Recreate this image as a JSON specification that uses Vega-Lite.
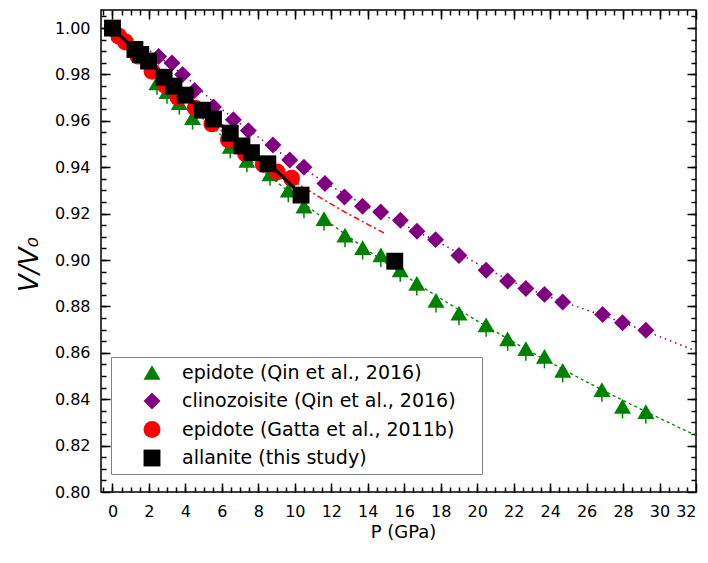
{
  "$schema": "https://vega.github.io/schema/vega-lite/v6.json",
  "width": 595,
  "height": 482,
  "autosize": {"type": "none"},
  "padding": {"left": 101, "top": 10, "right": 12, "bottom": 71},
  "background": "#ffffff",
  "config": {
    "view": {"stroke": "#000000", "strokeWidth": 1.5},
    "font": "DejaVu Sans",
    "axis": {"labelColor": "#000000", "tickColor": "#000000", "titleColor": "#000000", "labelFont": "DejaVu Sans", "titleFont": "DejaVu Sans", "grid": false, "domain": false, "tickWidth": 1.5}
  },
  "datasets": {
    "points": [
      {"s": "epidote (Qin et al., 2016)", "P": 0, "V": 1.0},
      {"s": "epidote (Qin et al., 2016)", "P": 2.44, "V": 0.9764},
      {"s": "epidote (Qin et al., 2016)", "P": 2.99, "V": 0.9726},
      {"s": "epidote (Qin et al., 2016)", "P": 3.66, "V": 0.9679},
      {"s": "epidote (Qin et al., 2016)", "P": 4.39, "V": 0.9614},
      {"s": "epidote (Qin et al., 2016)", "P": 6.46, "V": 0.949},
      {"s": "epidote (Qin et al., 2016)", "P": 7.37, "V": 0.943},
      {"s": "epidote (Qin et al., 2016)", "P": 8.64, "V": 0.9372},
      {"s": "epidote (Qin et al., 2016)", "P": 9.64, "V": 0.9301},
      {"s": "epidote (Qin et al., 2016)", "P": 10.5, "V": 0.9232},
      {"s": "epidote (Qin et al., 2016)", "P": 11.6, "V": 0.9179},
      {"s": "epidote (Qin et al., 2016)", "P": 12.75, "V": 0.9107},
      {"s": "epidote (Qin et al., 2016)", "P": 13.72, "V": 0.9054},
      {"s": "epidote (Qin et al., 2016)", "P": 14.72, "V": 0.9022},
      {"s": "epidote (Qin et al., 2016)", "P": 15.78, "V": 0.8958},
      {"s": "epidote (Qin et al., 2016)", "P": 16.69, "V": 0.8899},
      {"s": "epidote (Qin et al., 2016)", "P": 17.74, "V": 0.8826},
      {"s": "epidote (Qin et al., 2016)", "P": 19.0, "V": 0.8771},
      {"s": "epidote (Qin et al., 2016)", "P": 20.49, "V": 0.8721},
      {"s": "epidote (Qin et al., 2016)", "P": 21.67, "V": 0.866},
      {"s": "epidote (Qin et al., 2016)", "P": 22.67, "V": 0.8618},
      {"s": "epidote (Qin et al., 2016)", "P": 23.69, "V": 0.8585},
      {"s": "epidote (Qin et al., 2016)", "P": 24.69, "V": 0.8524},
      {"s": "epidote (Qin et al., 2016)", "P": 26.84, "V": 0.8441},
      {"s": "epidote (Qin et al., 2016)", "P": 27.97, "V": 0.8369},
      {"s": "epidote (Qin et al., 2016)", "P": 29.25, "V": 0.8347},
      {"s": "clinozoisite (Qin et al., 2016)", "P": 0, "V": 1.0},
      {"s": "clinozoisite (Qin et al., 2016)", "P": 2.53, "V": 0.9878},
      {"s": "clinozoisite (Qin et al., 2016)", "P": 3.26, "V": 0.985},
      {"s": "clinozoisite (Qin et al., 2016)", "P": 3.84, "V": 0.98},
      {"s": "clinozoisite (Qin et al., 2016)", "P": 4.5, "V": 0.9731},
      {"s": "clinozoisite (Qin et al., 2016)", "P": 5.54, "V": 0.966},
      {"s": "clinozoisite (Qin et al., 2016)", "P": 6.63, "V": 0.9605},
      {"s": "clinozoisite (Qin et al., 2016)", "P": 7.45, "V": 0.9558},
      {"s": "clinozoisite (Qin et al., 2016)", "P": 8.8, "V": 0.9496},
      {"s": "clinozoisite (Qin et al., 2016)", "P": 9.72, "V": 0.9431},
      {"s": "clinozoisite (Qin et al., 2016)", "P": 10.5, "V": 0.94},
      {"s": "clinozoisite (Qin et al., 2016)", "P": 11.65, "V": 0.933},
      {"s": "clinozoisite (Qin et al., 2016)", "P": 12.72, "V": 0.9272},
      {"s": "clinozoisite (Qin et al., 2016)", "P": 13.71, "V": 0.9232},
      {"s": "clinozoisite (Qin et al., 2016)", "P": 14.71, "V": 0.9207},
      {"s": "clinozoisite (Qin et al., 2016)", "P": 15.79, "V": 0.9172},
      {"s": "clinozoisite (Qin et al., 2016)", "P": 16.7, "V": 0.9124},
      {"s": "clinozoisite (Qin et al., 2016)", "P": 17.72, "V": 0.9088},
      {"s": "clinozoisite (Qin et al., 2016)", "P": 19.0, "V": 0.902},
      {"s": "clinozoisite (Qin et al., 2016)", "P": 20.49, "V": 0.8956},
      {"s": "clinozoisite (Qin et al., 2016)", "P": 21.67, "V": 0.891},
      {"s": "clinozoisite (Qin et al., 2016)", "P": 22.67, "V": 0.8877},
      {"s": "clinozoisite (Qin et al., 2016)", "P": 23.69, "V": 0.8852},
      {"s": "clinozoisite (Qin et al., 2016)", "P": 24.69, "V": 0.8819},
      {"s": "clinozoisite (Qin et al., 2016)", "P": 26.88, "V": 0.8765},
      {"s": "clinozoisite (Qin et al., 2016)", "P": 27.97, "V": 0.873},
      {"s": "clinozoisite (Qin et al., 2016)", "P": 29.25, "V": 0.8697},
      {"s": "epidote (Gatta et al., 2011b)", "P": 0, "V": 1.0},
      {"s": "epidote (Gatta et al., 2011b)", "P": 0.35, "V": 0.9965},
      {"s": "epidote (Gatta et al., 2011b)", "P": 0.71, "V": 0.994},
      {"s": "epidote (Gatta et al., 2011b)", "P": 1.4, "V": 0.9879},
      {"s": "epidote (Gatta et al., 2011b)", "P": 2.17, "V": 0.9814},
      {"s": "epidote (Gatta et al., 2011b)", "P": 2.9, "V": 0.9752},
      {"s": "epidote (Gatta et al., 2011b)", "P": 3.6, "V": 0.97},
      {"s": "epidote (Gatta et al., 2011b)", "P": 4.54, "V": 0.9655},
      {"s": "epidote (Gatta et al., 2011b)", "P": 5.45, "V": 0.9587},
      {"s": "epidote (Gatta et al., 2011b)", "P": 6.36, "V": 0.9518},
      {"s": "epidote (Gatta et al., 2011b)", "P": 7.3, "V": 0.9458},
      {"s": "epidote (Gatta et al., 2011b)", "P": 8.27, "V": 0.9413},
      {"s": "epidote (Gatta et al., 2011b)", "P": 9.03, "V": 0.938},
      {"s": "epidote (Gatta et al., 2011b)", "P": 9.82, "V": 0.9353},
      {"s": "allanite (this study)", "P": 0, "V": 1.0},
      {"s": "allanite (this study)", "P": 1.23, "V": 0.9908},
      {"s": "allanite (this study)", "P": 1.55, "V": 0.9886},
      {"s": "allanite (this study)", "P": 1.98, "V": 0.9858},
      {"s": "allanite (this study)", "P": 2.83, "V": 0.9788},
      {"s": "allanite (this study)", "P": 3.37, "V": 0.975},
      {"s": "allanite (this study)", "P": 3.99, "V": 0.9711},
      {"s": "allanite (this study)", "P": 4.93, "V": 0.9646},
      {"s": "allanite (this study)", "P": 5.54, "V": 0.9608},
      {"s": "allanite (this study)", "P": 6.46, "V": 0.9547},
      {"s": "allanite (this study)", "P": 7.1, "V": 0.9492},
      {"s": "allanite (this study)", "P": 7.62, "V": 0.9463},
      {"s": "allanite (this study)", "P": 8.52, "V": 0.9415},
      {"s": "allanite (this study)", "P": 10.34, "V": 0.928},
      {"s": "allanite (this study)", "P": 15.48, "V": 0.8995}
    ],
    "curves": [
      {"c": "ep", "P": 0, "V": 1.0}, {"c": "ep", "P": 2, "V": 0.9834}, {"c": "ep", "P": 4, "V": 0.968}, {"c": "ep", "P": 6, "V": 0.9536},
      {"c": "ep", "P": 8, "V": 0.9401}, {"c": "ep", "P": 10, "V": 0.9274}, {"c": "ep", "P": 12, "V": 0.9155}, {"c": "ep", "P": 14, "V": 0.9042},
      {"c": "ep", "P": 16, "V": 0.8935}, {"c": "ep", "P": 18, "V": 0.8834}, {"c": "ep", "P": 20, "V": 0.8738}, {"c": "ep", "P": 22, "V": 0.8646},
      {"c": "ep", "P": 24, "V": 0.8559}, {"c": "ep", "P": 26, "V": 0.8475}, {"c": "ep", "P": 28, "V": 0.8395}, {"c": "ep", "P": 30, "V": 0.8318},
      {"c": "ep", "P": 32, "V": 0.8244},
      {"c": "cz", "P": 0, "V": 1.0}, {"c": "cz", "P": 2, "V": 0.9905}, {"c": "cz", "P": 4, "V": 0.979}, {"c": "cz", "P": 6, "V": 0.965},
      {"c": "cz", "P": 8, "V": 0.953}, {"c": "cz", "P": 10, "V": 0.942}, {"c": "cz", "P": 12, "V": 0.9318}, {"c": "cz", "P": 14, "V": 0.923},
      {"c": "cz", "P": 16, "V": 0.915}, {"c": "cz", "P": 18, "V": 0.9072}, {"c": "cz", "P": 20, "V": 0.8985}, {"c": "cz", "P": 22, "V": 0.8905},
      {"c": "cz", "P": 24, "V": 0.884}, {"c": "cz", "P": 26, "V": 0.8785}, {"c": "cz", "P": 28, "V": 0.873}, {"c": "cz", "P": 30, "V": 0.867},
      {"c": "cz", "P": 32, "V": 0.8608},
      {"c": "gatta", "P": 0, "V": 1.0}, {"c": "gatta", "P": 1, "V": 0.9913}, {"c": "gatta", "P": 2, "V": 0.9833}, {"c": "gatta", "P": 3, "V": 0.9757},
      {"c": "gatta", "P": 4, "V": 0.9687}, {"c": "gatta", "P": 5, "V": 0.962}, {"c": "gatta", "P": 6, "V": 0.9557}, {"c": "gatta", "P": 7, "V": 0.9498},
      {"c": "gatta", "P": 8, "V": 0.9442}, {"c": "gatta", "P": 9, "V": 0.9388}, {"c": "gatta", "P": 10, "V": 0.9337}, {"c": "gatta", "P": 11, "V": 0.9288},
      {"c": "gatta", "P": 12, "V": 0.9241}, {"c": "gatta", "P": 13, "V": 0.9196}, {"c": "gatta", "P": 14, "V": 0.9154}, {"c": "gatta", "P": 15, "V": 0.9112},
      {"c": "aln", "P": 0, "V": 1.0}, {"c": "aln", "P": 1.23, "V": 0.9908}, {"c": "aln", "P": 1.55, "V": 0.9886}, {"c": "aln", "P": 1.98, "V": 0.9858},
      {"c": "aln", "P": 2.83, "V": 0.9788}, {"c": "aln", "P": 3.37, "V": 0.975}, {"c": "aln", "P": 3.99, "V": 0.9711}, {"c": "aln", "P": 4.93, "V": 0.9646},
      {"c": "aln", "P": 5.54, "V": 0.9608}, {"c": "aln", "P": 6.46, "V": 0.9547}, {"c": "aln", "P": 7.1, "V": 0.9492}, {"c": "aln", "P": 7.62, "V": 0.9463},
      {"c": "aln", "P": 8.52, "V": 0.9415}, {"c": "aln", "P": 10.34, "V": 0.928}
    ]
  },
  "resolve": {"axis": {"x": "independent", "y": "independent"}},
  "layer": [
    {
      "data": {"name": "curves"},
      "transform": [{"filter": "datum.c === 'ep'"}],
      "mark": {"type": "line", "color": "#008000", "strokeWidth": 1.3, "strokeDash": [3, 3], "interpolate": "monotone"},
      "encoding": {
        "x": {"field": "P", "type": "quantitative", "scale": {"domain": [-0.63, 32], "nice": false, "zero": false},
          "axis": {"orient": "bottom", "values": [0,2,4,6,8,10,12,14,16,18,20,22,24,26,28,30,32], "tickSize": -9, "labelPadding": 20, "labelFontSize": 16, "labelOverlap": false,
            "title": "P (GPa)", "titleFontSize": 18, "titleFontWeight": "normal", "titleX": 302, "titleY": 45, "titleBaseline": "alphabetic", "titleAlign": "center"}},
        "y": {"field": "V", "type": "quantitative", "scale": {"domain": [0.8, 1.0078], "nice": false, "zero": false},
          "axis": {"orient": "left", "values": [0.8,0.82,0.84,0.86,0.88,0.9,0.92,0.94,0.96,0.98,1.0], "format": ".2f", "tickSize": -9, "labelPadding": 20, "labelFontSize": 16, "labelOverlap": false,
            "title": "V/V\u2080", "titleFontSize": 26, "titleFontStyle": "italic", "titleFontWeight": "normal", "titleAngle": 270, "titleX": -64, "titleY": 254, "titleAlign": "center", "titleBaseline": "alphabetic"}}
      }
    },
    {
      "data": {"name": "curves"},
      "transform": [{"filter": "datum.c === 'cz'"}],
      "mark": {"type": "line", "color": "#800080", "strokeWidth": 1.5, "strokeDash": [1.5, 4], "interpolate": "monotone"},
      "encoding": {
        "x": {"field": "P", "type": "quantitative", "scale": {"domain": [-0.63, 32], "nice": false, "zero": false},
          "axis": {"orient": "bottom", "values": [-0.5,0,0.5,1,1.5,2,2.5,3,3.5,4,4.5,5,5.5,6,6.5,7,7.5,8,8.5,9,9.5,10,10.5,11,11.5,12,12.5,13,13.5,14,14.5,15,15.5,16,16.5,17,17.5,18,18.5,19,19.5,20,20.5,21,21.5,22,22.5,23,23.5,24,24.5,25,25.5,26,26.5,27,27.5,28,28.5,29,29.5,30,30.5,31,31.5], "tickSize": -5, "labels": false, "title": null}},
        "y": {"field": "V", "type": "quantitative", "scale": {"domain": [0.8, 1.0078], "nice": false, "zero": false},
          "axis": {"orient": "left", "values": [0.805,0.81,0.815,0.82,0.825,0.83,0.835,0.84,0.845,0.85,0.855,0.86,0.865,0.87,0.875,0.88,0.885,0.89,0.895,0.9,0.905,0.91,0.915,0.92,0.925,0.93,0.935,0.94,0.945,0.95,0.955,0.96,0.965,0.97,0.975,0.98,0.985,0.99,0.995,1.0,1.005], "tickSize": -5, "labels": false, "title": null}}
      }
    },
    {
      "data": {"name": "curves"},
      "transform": [{"filter": "datum.c === 'gatta'"}],
      "mark": {"type": "line", "color": "#ff0000", "strokeWidth": 1.5, "strokeDash": [6, 3, 2, 3], "interpolate": "monotone"},
      "encoding": {
        "x": {"field": "P", "type": "quantitative", "scale": {"domain": [-0.63, 32], "nice": false, "zero": false},
          "axis": {"orient": "top", "values": [0,2,4,6,8,10,12,14,16,18,20,22,24,26,28,30,32], "tickSize": -9, "labels": false, "title": null}},
        "y": {"field": "V", "type": "quantitative", "scale": {"domain": [0.8, 1.0078], "nice": false, "zero": false},
          "axis": {"orient": "right", "values": [0.8,0.82,0.84,0.86,0.88,0.9,0.92,0.94,0.96,0.98,1.0], "tickSize": -9, "labels": false, "title": null}}
      }
    },
    {
      "data": {"name": "points"},
      "transform": [{"filter": "datum.s === 'epidote (Qin et al., 2016)'"}],
      "mark": {"type": "rule", "color": "#008000", "strokeWidth": 1.5, "y2Offset": 12},
      "encoding": {
        "x": {"field": "P", "type": "quantitative", "axis": null},
        "y": {"field": "V", "type": "quantitative", "axis": null},
        "y2": {"field": "V"}
      }
    },
    {
      "data": {"name": "points"},
      "mark": {"type": "point", "filled": true, "opacity": 1, "strokeWidth": 0},
      "encoding": {
        "x": {"field": "P", "type": "quantitative", "axis": null},
        "y": {"field": "V", "type": "quantitative", "axis": null},
        "color": {"field": "s", "type": "nominal",
          "scale": {"domain": ["epidote (Qin et al., 2016)", "clinozoisite (Qin et al., 2016)", "epidote (Gatta et al., 2011b)", "allanite (this study)"], "range": ["#008000", "#800080", "#ff0000", "#000000"]},
          "legend": {"orient": "none", "legendX": 10, "legendY": 347, "title": null, "padding": 6, "rowPadding": 8.5, "symbolOffset": 25.5, "labelOffset": 20.5, "labelFontSize": 19, "labelFont": "DejaVu Sans", "labelColor": "#000000", "labelLimit": 500, "strokeColor": "#808080", "fillColor": "#ffffff", "symbolStrokeWidth": 0, "symbolOpacity": 1, "labelExpr": "datum.label + '\u00a0\u2800'"}},
        "shape": {"field": "s", "type": "nominal",
          "scale": {"domain": ["epidote (Qin et al., 2016)", "clinozoisite (Qin et al., 2016)", "epidote (Gatta et al., 2011b)", "allanite (this study)"], "range": ["triangle-up", "diamond", "circle", "square"]},
          "legend": {"orient": "none", "legendX": 10, "legendY": 347, "title": null, "padding": 6, "rowPadding": 8.5, "symbolOffset": 25.5, "labelOffset": 20.5, "labelFontSize": 19, "labelFont": "DejaVu Sans", "labelColor": "#000000", "labelLimit": 500, "strokeColor": "#808080", "fillColor": "#ffffff", "symbolStrokeWidth": 0, "symbolOpacity": 1, "labelExpr": "datum.label + '\u00a0\u2800'"}},
        "size": {"field": "s", "type": "nominal",
          "scale": {"domain": ["epidote (Qin et al., 2016)", "clinozoisite (Qin et al., 2016)", "epidote (Gatta et al., 2011b)", "allanite (this study)"], "range": [290, 285, 180, 150]},
          "legend": {"orient": "none", "legendX": 10, "legendY": 347, "title": null, "padding": 6, "rowPadding": 8.5, "symbolOffset": 25.5, "labelOffset": 20.5, "labelFontSize": 19, "labelFont": "DejaVu Sans", "labelColor": "#000000", "labelLimit": 500, "strokeColor": "#808080", "fillColor": "#ffffff", "symbolStrokeWidth": 0, "symbolOpacity": 1, "labelExpr": "datum.label + '\u00a0\u2800'"}}
      }
    },
    {
      "data": {"name": "curves"},
      "transform": [{"filter": "datum.c === 'aln'"}],
      "mark": {"type": "line", "color": "#000000", "strokeWidth": 3.2, "interpolate": "monotone"},
      "encoding": {
        "x": {"field": "P", "type": "quantitative", "scale": {"domain": [-0.63, 32], "nice": false, "zero": false},
          "axis": {"orient": "top", "values": [-0.5,0,0.5,1,1.5,2,2.5,3,3.5,4,4.5,5,5.5,6,6.5,7,7.5,8,8.5,9,9.5,10,10.5,11,11.5,12,12.5,13,13.5,14,14.5,15,15.5,16,16.5,17,17.5,18,18.5,19,19.5,20,20.5,21,21.5,22,22.5,23,23.5,24,24.5,25,25.5,26,26.5,27,27.5,28,28.5,29,29.5,30,30.5,31,31.5], "tickSize": -5, "labels": false, "title": null}},
        "y": {"field": "V", "type": "quantitative", "scale": {"domain": [0.8, 1.0078], "nice": false, "zero": false},
          "axis": {"orient": "right", "values": [0.805,0.81,0.815,0.82,0.825,0.83,0.835,0.84,0.845,0.85,0.855,0.86,0.865,0.87,0.875,0.88,0.885,0.89,0.895,0.9,0.905,0.91,0.915,0.92,0.925,0.93,0.935,0.94,0.945,0.95,0.955,0.96,0.965,0.97,0.975,0.98,0.985,0.99,0.995,1.0,1.005], "tickSize": -5, "labels": false, "title": null}}
      }
    }
  ]
}
